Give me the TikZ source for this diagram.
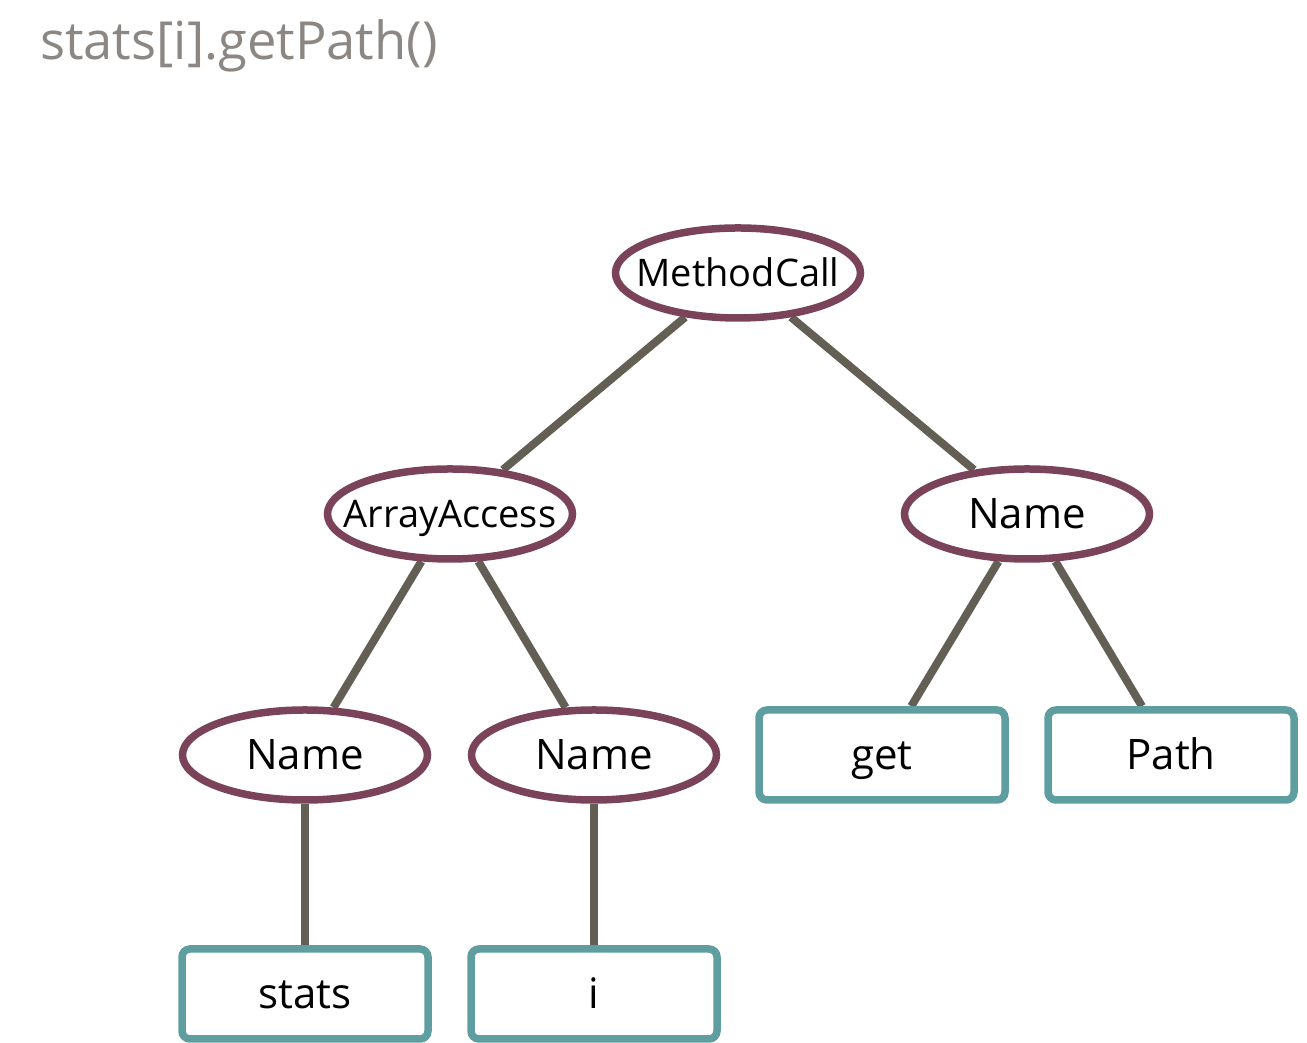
\documentclass[tikz,border=0pt]{standalone}
\usepackage{fontspec}
\setmainfont{Open Sans}
\usetikzlibrary{shapes.geometric,backgrounds}
\definecolor{plum}{RGB}{123,67,89}
\definecolor{teal}{RGB}{94,158,161}
\definecolor{edgegray}{RGB}{100,95,84}
\definecolor{titlegray}{RGB}{140,135,131}
\tikzset{
  inner/.style={ellipse, draw=plum, fill=white, line width=7.5pt,
    inner xsep=-60pt, inner ysep=0pt, text height=30pt, text depth=0pt,
    minimum width=245pt, minimum height=90pt, font=\fontsize{42}{48}\selectfont},
  leaf/.style={rectangle, draw=teal, fill=white, line width=7.5pt, rounded corners=8pt,
    inner sep=0pt, text height=30pt, text depth=0pt,
    minimum width=246pt, minimum height=90pt, font=\fontsize{42}{48}\selectfont},
  smalltext/.style={text height=27pt, font=\fontsize{38}{44}\selectfont},
  branch/.style={draw=edgegray, line width=8pt}
}
\begin{document}
\begin{tikzpicture}[x=1pt,y=1pt]
  \useasboundingbox (0,0) rectangle (1307,1043);
  \node[anchor=base west, text=titlegray, inner sep=0pt,
        font=\fontsize{52.5}{60}\selectfont] (title) at (40,983) {stats[i].getPath()};

  \node[inner, smalltext] (mc) at (738,770) {MethodCall};
  \node[inner, smalltext] (aa) at (450,529) {ArrayAccess};
  \node[inner] (nr) at (1027,529) {Name};
  \node[inner] (nl) at (305,288) {Name};
  \node[inner] (nm) at (594,288) {Name};
  \node[leaf] (get) at (882,288) {get};
  \node[leaf] (path) at (1171,288) {Path};
  \node[leaf] (stats) at (305,49) {stats};
  \node[leaf] (idx) at (594,49) {i};

  \begin{scope}[on background layer]
    \draw[branch] (mc) -- (aa);
    \draw[branch] (mc) -- (nr);
    \draw[branch] (aa) -- (nl);
    \draw[branch] (aa) -- (nm);
    \draw[branch] (nr) -- (get);
    \draw[branch] (nr) -- (path);
    \draw[branch] (nl) -- (stats);
    \draw[branch] (nm) -- (idx);
  \end{scope}
\end{tikzpicture}
\end{document}
